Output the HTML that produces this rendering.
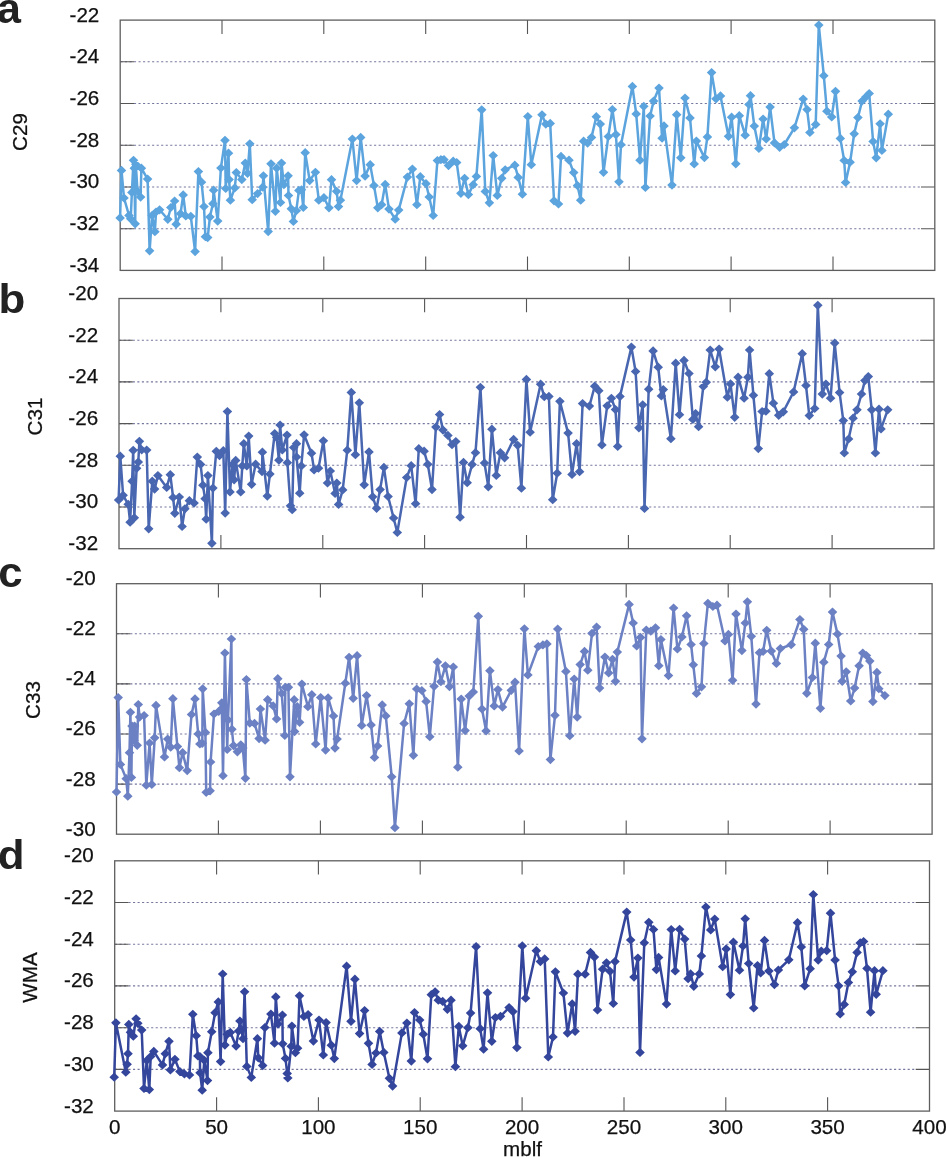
<!DOCTYPE html>
<html lang="en"><head><meta charset="utf-8"><title>Figure</title>
<style>
html,body{margin:0;padding:0;background:#fff;}
body{width:946px;height:1157px;overflow:hidden;font-family:"Liberation Sans",sans-serif;}
svg{display:block;}
svg text{font-family:"Liberation Sans",sans-serif;fill:#111;}
.t{font-size:20.6px;stroke:#111;stroke-width:0.25px;}
.L{font-size:41px;font-weight:bold;fill:#222;}
</style></head><body>
<svg width="946" height="1157" viewBox="0 0 946 1157">
<rect width="946" height="1157" fill="#fff"/>
<g id="panel-a">
<line x1="120.4" x2="921.0" y1="61.8" y2="61.8" stroke="#74779e" stroke-width="1.1" stroke-dasharray="2.1 2.43"/>
<path d="M120.2 61.8h13.8M934.8 61.8h-13.8" stroke="#555555" stroke-width="1.1" fill="none"/>
<line x1="120.4" x2="921.0" y1="103.5" y2="103.5" stroke="#74779e" stroke-width="1.1" stroke-dasharray="2.1 2.43"/>
<path d="M120.2 103.5h13.8M934.8 103.5h-13.8" stroke="#555555" stroke-width="1.1" fill="none"/>
<line x1="120.4" x2="921.0" y1="145.2" y2="145.2" stroke="#74779e" stroke-width="1.1" stroke-dasharray="2.1 2.43"/>
<path d="M120.2 145.2h13.8M934.8 145.2h-13.8" stroke="#555555" stroke-width="1.1" fill="none"/>
<line x1="120.4" x2="921.0" y1="187.0" y2="187.0" stroke="#74779e" stroke-width="1.1" stroke-dasharray="2.1 2.43"/>
<path d="M120.2 187.0h13.8M934.8 187.0h-13.8" stroke="#555555" stroke-width="1.1" fill="none"/>
<line x1="120.4" x2="921.0" y1="228.7" y2="228.7" stroke="#74779e" stroke-width="1.1" stroke-dasharray="2.1 2.43"/>
<path d="M120.2 228.7h13.8M934.8 228.7h-13.8" stroke="#555555" stroke-width="1.1" fill="none"/>
<path d="M222.0 20.1v13.8M222.0 270.4v-13.8M323.8 20.1v13.8M323.8 270.4v-13.8M425.7 20.1v13.8M425.7 270.4v-13.8M527.5 20.1v13.8M527.5 270.4v-13.8M629.3 20.1v13.8M629.3 270.4v-13.8M731.1 20.1v13.8M731.1 270.4v-13.8M833.0 20.1v13.8M833.0 270.4v-13.8" stroke="#555555" stroke-width="1.1" fill="none"/>
<rect x="120.2" y="20.1" width="814.6" height="250.3" fill="none" stroke="#5e5e5e" stroke-width="1.3"/>
<text class="t" x="99.3" y="21.5" text-anchor="end">-22</text>
<text class="t" x="99.3" y="63.2" text-anchor="end">-24</text>
<text class="t" x="99.3" y="104.9" text-anchor="end">-26</text>
<text class="t" x="99.3" y="146.7" text-anchor="end">-28</text>
<text class="t" x="99.3" y="188.4" text-anchor="end">-30</text>
<text class="t" x="99.3" y="230.1" text-anchor="end">-32</text>
<text class="t" x="99.3" y="271.8" text-anchor="end">-34</text>
<text class="t" transform="translate(27 132) rotate(-90)" text-anchor="middle">C29</text>
<text class="L" style="font-size:43px" transform="translate(-3.0 22.7) scale(1.0 1)">a</text>
<polyline fill="none" stroke="#5ca4de" stroke-width="2.5" stroke-linejoin="round" points="120.1,217.9 121.5,170.4 124.0,198.0 129.0,215.4 130.7,218.8 131.9,192.4 133.5,160.3 134.3,168.2 135.2,223.8 135.8,164.3 137.5,191.2 140.6,197.1 141.4,168.2 147.6,179.1 149.6,250.8 152.1,215.4 154.9,231.7 156.0,212.0 159.6,209.8 167.8,219.3 170.8,207.5 174.6,201.0 176.2,224.2 180.5,213.7 183.2,194.9 185.8,216.0 190.8,216.3 195.1,251.6 198.4,171.6 201.5,182.2 204.0,206.6 205.4,236.7 207.7,237.6 209.9,217.1 212.9,203.7 213.6,190.2 217.7,221.1 220.9,168.0 225.0,140.3 225.7,188.5 228.5,153.2 229.1,179.6 230.4,200.2 234.8,187.9 236.3,172.6 241.8,179.6 245.3,163.1 247.5,173.3 249.8,143.8 252.2,199.7 257.6,193.6 262.7,187.2 263.4,175.8 268.2,231.6 271.0,163.8 275.4,211.3 276.7,168.2 280.5,202.5 281.5,163.1 283.9,184.7 288.1,175.8 288.5,195.5 291.3,208.8 293.4,221.5 296.3,210.7 298.9,190.4 301.4,189.8 303.3,207.5 305.2,152.7 309.7,180.6 315.4,172.3 318.8,200.2 323.9,197.7 329.0,207.8 331.5,179.7 336.6,191.3 338.5,206.6 340.4,200.2 352.4,139.1 356.6,180.6 360.7,137.4 365.1,176.1 370.2,164.7 374.0,185.6 377.8,207.8 381.6,204.7 385.2,184.4 389.0,209.1 395.2,219.2 398.7,210.1 407.4,177.1 412.4,169.1 416.9,204.7 420.3,176.7 426.0,183.7 429.2,197.0 433.2,215.5 437.4,160.6 440.9,159.7 444.0,159.7 448.5,165.6 453.2,161.2 456.7,162.5 460.9,193.3 464.6,178.3 468.4,194.6 473.2,184.7 476.4,176.4 481.7,109.8 485.3,191.4 489.4,202.8 493.2,155.5 497.3,195.4 501.7,178.3 505.2,169.8 514.8,165.2 518.2,177.4 522.4,194.2 527.8,116.5 531.3,164.7 542.0,114.8 545.8,124.1 550.2,123.4 554.0,200.8 558.5,204.0 561.0,156.4 569.0,160.2 573.7,172.6 577.5,185.6 580.7,200.2 583.6,141.2 587.6,143.1 591.5,137.4 596.3,116.7 600.3,124.1 603.5,172.3 608.3,136.5 612.4,109.5 615.9,134.6 619.0,181.8 621.0,144.7 632.4,86.4 636.2,113.9 640.0,160.2 643.8,106.3 645.4,187.5 650.1,116.0 653.6,101.1 659.0,88.1 662.1,138.2 664.0,125.9 672.0,185.1 676.7,114.7 680.8,157.8 685.0,98.0 690.0,117.9 694.2,163.9 696.4,141.1 704.4,157.6 707.4,136.9 711.6,72.6 716.0,98.8 720.5,95.9 728.5,136.3 731.6,117.2 735.8,163.8 739.3,115.7 745.2,135.2 749.0,104.5 750.5,95.7 754.3,126.1 758.9,148.5 763.1,119.0 766.2,139.0 770.1,107.1 774.5,142.9 779.6,147.3 784.3,144.5 794.4,127.8 803.2,99.0 807.1,109.6 809.9,132.5 815.7,124.4 818.8,25.1 823.8,75.7 826.9,111.2 831.7,116.9 835.5,91.3 840.3,138.4 844.2,160.5 845.6,182.5 850.1,162.2 854.2,133.8 857.9,117.6 862.1,101.0 865.8,97.1 869.2,93.5 873.1,141.5 876.2,157.8 880.1,123.8 881.9,150.4 888.3,114.2"/>
<path fill="#5ca4de" d="M120.1 213.3l4.8 4.6l-4.8 4.6l-4.8-4.6zM121.5 165.8l4.8 4.6l-4.8 4.6l-4.8-4.6zM124.0 193.4l4.8 4.6l-4.8 4.6l-4.8-4.6zM129.0 210.8l4.8 4.6l-4.8 4.6l-4.8-4.6zM130.7 214.2l4.8 4.6l-4.8 4.6l-4.8-4.6zM131.9 187.8l4.8 4.6l-4.8 4.6l-4.8-4.6zM133.5 155.7l4.8 4.6l-4.8 4.6l-4.8-4.6zM134.3 163.6l4.8 4.6l-4.8 4.6l-4.8-4.6zM135.2 219.2l4.8 4.6l-4.8 4.6l-4.8-4.6zM135.8 159.7l4.8 4.6l-4.8 4.6l-4.8-4.6zM137.5 186.6l4.8 4.6l-4.8 4.6l-4.8-4.6zM140.6 192.5l4.8 4.6l-4.8 4.6l-4.8-4.6zM141.4 163.6l4.8 4.6l-4.8 4.6l-4.8-4.6zM147.6 174.5l4.8 4.6l-4.8 4.6l-4.8-4.6zM149.6 246.2l4.8 4.6l-4.8 4.6l-4.8-4.6zM152.1 210.8l4.8 4.6l-4.8 4.6l-4.8-4.6zM154.9 227.1l4.8 4.6l-4.8 4.6l-4.8-4.6zM156.0 207.4l4.8 4.6l-4.8 4.6l-4.8-4.6zM159.6 205.2l4.8 4.6l-4.8 4.6l-4.8-4.6zM167.8 214.7l4.8 4.6l-4.8 4.6l-4.8-4.6zM170.8 202.9l4.8 4.6l-4.8 4.6l-4.8-4.6zM174.6 196.4l4.8 4.6l-4.8 4.6l-4.8-4.6zM176.2 219.6l4.8 4.6l-4.8 4.6l-4.8-4.6zM180.5 209.1l4.8 4.6l-4.8 4.6l-4.8-4.6zM183.2 190.3l4.8 4.6l-4.8 4.6l-4.8-4.6zM185.8 211.4l4.8 4.6l-4.8 4.6l-4.8-4.6zM190.8 211.7l4.8 4.6l-4.8 4.6l-4.8-4.6zM195.1 247.0l4.8 4.6l-4.8 4.6l-4.8-4.6zM198.4 167.0l4.8 4.6l-4.8 4.6l-4.8-4.6zM201.5 177.6l4.8 4.6l-4.8 4.6l-4.8-4.6zM204.0 202.0l4.8 4.6l-4.8 4.6l-4.8-4.6zM205.4 232.1l4.8 4.6l-4.8 4.6l-4.8-4.6zM207.7 233.0l4.8 4.6l-4.8 4.6l-4.8-4.6zM209.9 212.5l4.8 4.6l-4.8 4.6l-4.8-4.6zM212.9 199.1l4.8 4.6l-4.8 4.6l-4.8-4.6zM213.6 185.6l4.8 4.6l-4.8 4.6l-4.8-4.6zM217.7 216.5l4.8 4.6l-4.8 4.6l-4.8-4.6zM220.9 163.4l4.8 4.6l-4.8 4.6l-4.8-4.6zM225.0 135.7l4.8 4.6l-4.8 4.6l-4.8-4.6zM225.7 183.9l4.8 4.6l-4.8 4.6l-4.8-4.6zM228.5 148.6l4.8 4.6l-4.8 4.6l-4.8-4.6zM229.1 175.0l4.8 4.6l-4.8 4.6l-4.8-4.6zM230.4 195.6l4.8 4.6l-4.8 4.6l-4.8-4.6zM234.8 183.3l4.8 4.6l-4.8 4.6l-4.8-4.6zM236.3 168.0l4.8 4.6l-4.8 4.6l-4.8-4.6zM241.8 175.0l4.8 4.6l-4.8 4.6l-4.8-4.6zM245.3 158.5l4.8 4.6l-4.8 4.6l-4.8-4.6zM247.5 168.7l4.8 4.6l-4.8 4.6l-4.8-4.6zM249.8 139.2l4.8 4.6l-4.8 4.6l-4.8-4.6zM252.2 195.1l4.8 4.6l-4.8 4.6l-4.8-4.6zM257.6 189.0l4.8 4.6l-4.8 4.6l-4.8-4.6zM262.7 182.6l4.8 4.6l-4.8 4.6l-4.8-4.6zM263.4 171.2l4.8 4.6l-4.8 4.6l-4.8-4.6zM268.2 227.0l4.8 4.6l-4.8 4.6l-4.8-4.6zM271.0 159.2l4.8 4.6l-4.8 4.6l-4.8-4.6zM275.4 206.7l4.8 4.6l-4.8 4.6l-4.8-4.6zM276.7 163.6l4.8 4.6l-4.8 4.6l-4.8-4.6zM280.5 197.9l4.8 4.6l-4.8 4.6l-4.8-4.6zM281.5 158.5l4.8 4.6l-4.8 4.6l-4.8-4.6zM283.9 180.1l4.8 4.6l-4.8 4.6l-4.8-4.6zM288.1 171.2l4.8 4.6l-4.8 4.6l-4.8-4.6zM288.5 190.9l4.8 4.6l-4.8 4.6l-4.8-4.6zM291.3 204.2l4.8 4.6l-4.8 4.6l-4.8-4.6zM293.4 216.9l4.8 4.6l-4.8 4.6l-4.8-4.6zM296.3 206.1l4.8 4.6l-4.8 4.6l-4.8-4.6zM298.9 185.8l4.8 4.6l-4.8 4.6l-4.8-4.6zM301.4 185.2l4.8 4.6l-4.8 4.6l-4.8-4.6zM303.3 202.9l4.8 4.6l-4.8 4.6l-4.8-4.6zM305.2 148.1l4.8 4.6l-4.8 4.6l-4.8-4.6zM309.7 176.0l4.8 4.6l-4.8 4.6l-4.8-4.6zM315.4 167.7l4.8 4.6l-4.8 4.6l-4.8-4.6zM318.8 195.6l4.8 4.6l-4.8 4.6l-4.8-4.6zM323.9 193.1l4.8 4.6l-4.8 4.6l-4.8-4.6zM329.0 203.2l4.8 4.6l-4.8 4.6l-4.8-4.6zM331.5 175.1l4.8 4.6l-4.8 4.6l-4.8-4.6zM336.6 186.7l4.8 4.6l-4.8 4.6l-4.8-4.6zM338.5 202.0l4.8 4.6l-4.8 4.6l-4.8-4.6zM340.4 195.6l4.8 4.6l-4.8 4.6l-4.8-4.6zM352.4 134.5l4.8 4.6l-4.8 4.6l-4.8-4.6zM356.6 176.0l4.8 4.6l-4.8 4.6l-4.8-4.6zM360.7 132.8l4.8 4.6l-4.8 4.6l-4.8-4.6zM365.1 171.5l4.8 4.6l-4.8 4.6l-4.8-4.6zM370.2 160.1l4.8 4.6l-4.8 4.6l-4.8-4.6zM374.0 181.0l4.8 4.6l-4.8 4.6l-4.8-4.6zM377.8 203.2l4.8 4.6l-4.8 4.6l-4.8-4.6zM381.6 200.1l4.8 4.6l-4.8 4.6l-4.8-4.6zM385.2 179.8l4.8 4.6l-4.8 4.6l-4.8-4.6zM389.0 204.5l4.8 4.6l-4.8 4.6l-4.8-4.6zM395.2 214.6l4.8 4.6l-4.8 4.6l-4.8-4.6zM398.7 205.5l4.8 4.6l-4.8 4.6l-4.8-4.6zM407.4 172.5l4.8 4.6l-4.8 4.6l-4.8-4.6zM412.4 164.5l4.8 4.6l-4.8 4.6l-4.8-4.6zM416.9 200.1l4.8 4.6l-4.8 4.6l-4.8-4.6zM420.3 172.1l4.8 4.6l-4.8 4.6l-4.8-4.6zM426.0 179.1l4.8 4.6l-4.8 4.6l-4.8-4.6zM429.2 192.4l4.8 4.6l-4.8 4.6l-4.8-4.6zM433.2 210.9l4.8 4.6l-4.8 4.6l-4.8-4.6zM437.4 156.0l4.8 4.6l-4.8 4.6l-4.8-4.6zM440.9 155.1l4.8 4.6l-4.8 4.6l-4.8-4.6zM444.0 155.1l4.8 4.6l-4.8 4.6l-4.8-4.6zM448.5 161.0l4.8 4.6l-4.8 4.6l-4.8-4.6zM453.2 156.6l4.8 4.6l-4.8 4.6l-4.8-4.6zM456.7 157.9l4.8 4.6l-4.8 4.6l-4.8-4.6zM460.9 188.7l4.8 4.6l-4.8 4.6l-4.8-4.6zM464.6 173.7l4.8 4.6l-4.8 4.6l-4.8-4.6zM468.4 190.0l4.8 4.6l-4.8 4.6l-4.8-4.6zM473.2 180.1l4.8 4.6l-4.8 4.6l-4.8-4.6zM476.4 171.8l4.8 4.6l-4.8 4.6l-4.8-4.6zM481.7 105.2l4.8 4.6l-4.8 4.6l-4.8-4.6zM485.3 186.8l4.8 4.6l-4.8 4.6l-4.8-4.6zM489.4 198.2l4.8 4.6l-4.8 4.6l-4.8-4.6zM493.2 150.9l4.8 4.6l-4.8 4.6l-4.8-4.6zM497.3 190.8l4.8 4.6l-4.8 4.6l-4.8-4.6zM501.7 173.7l4.8 4.6l-4.8 4.6l-4.8-4.6zM505.2 165.2l4.8 4.6l-4.8 4.6l-4.8-4.6zM514.8 160.6l4.8 4.6l-4.8 4.6l-4.8-4.6zM518.2 172.8l4.8 4.6l-4.8 4.6l-4.8-4.6zM522.4 189.6l4.8 4.6l-4.8 4.6l-4.8-4.6zM527.8 111.9l4.8 4.6l-4.8 4.6l-4.8-4.6zM531.3 160.1l4.8 4.6l-4.8 4.6l-4.8-4.6zM542.0 110.2l4.8 4.6l-4.8 4.6l-4.8-4.6zM545.8 119.5l4.8 4.6l-4.8 4.6l-4.8-4.6zM550.2 118.8l4.8 4.6l-4.8 4.6l-4.8-4.6zM554.0 196.2l4.8 4.6l-4.8 4.6l-4.8-4.6zM558.5 199.4l4.8 4.6l-4.8 4.6l-4.8-4.6zM561.0 151.8l4.8 4.6l-4.8 4.6l-4.8-4.6zM569.0 155.6l4.8 4.6l-4.8 4.6l-4.8-4.6zM573.7 168.0l4.8 4.6l-4.8 4.6l-4.8-4.6zM577.5 181.0l4.8 4.6l-4.8 4.6l-4.8-4.6zM580.7 195.6l4.8 4.6l-4.8 4.6l-4.8-4.6zM583.6 136.6l4.8 4.6l-4.8 4.6l-4.8-4.6zM587.6 138.5l4.8 4.6l-4.8 4.6l-4.8-4.6zM591.5 132.8l4.8 4.6l-4.8 4.6l-4.8-4.6zM596.3 112.1l4.8 4.6l-4.8 4.6l-4.8-4.6zM600.3 119.5l4.8 4.6l-4.8 4.6l-4.8-4.6zM603.5 167.7l4.8 4.6l-4.8 4.6l-4.8-4.6zM608.3 131.9l4.8 4.6l-4.8 4.6l-4.8-4.6zM612.4 104.9l4.8 4.6l-4.8 4.6l-4.8-4.6zM615.9 130.0l4.8 4.6l-4.8 4.6l-4.8-4.6zM619.0 177.2l4.8 4.6l-4.8 4.6l-4.8-4.6zM621.0 140.1l4.8 4.6l-4.8 4.6l-4.8-4.6zM632.4 81.8l4.8 4.6l-4.8 4.6l-4.8-4.6zM636.2 109.3l4.8 4.6l-4.8 4.6l-4.8-4.6zM640.0 155.6l4.8 4.6l-4.8 4.6l-4.8-4.6zM643.8 101.7l4.8 4.6l-4.8 4.6l-4.8-4.6zM645.4 182.9l4.8 4.6l-4.8 4.6l-4.8-4.6zM650.1 111.4l4.8 4.6l-4.8 4.6l-4.8-4.6zM653.6 96.5l4.8 4.6l-4.8 4.6l-4.8-4.6zM659.0 83.5l4.8 4.6l-4.8 4.6l-4.8-4.6zM662.1 133.6l4.8 4.6l-4.8 4.6l-4.8-4.6zM664.0 121.3l4.8 4.6l-4.8 4.6l-4.8-4.6zM672.0 180.5l4.8 4.6l-4.8 4.6l-4.8-4.6zM676.7 110.1l4.8 4.6l-4.8 4.6l-4.8-4.6zM680.8 153.2l4.8 4.6l-4.8 4.6l-4.8-4.6zM685.0 93.4l4.8 4.6l-4.8 4.6l-4.8-4.6zM690.0 113.3l4.8 4.6l-4.8 4.6l-4.8-4.6zM694.2 159.3l4.8 4.6l-4.8 4.6l-4.8-4.6zM696.4 136.5l4.8 4.6l-4.8 4.6l-4.8-4.6zM704.4 153.0l4.8 4.6l-4.8 4.6l-4.8-4.6zM707.4 132.3l4.8 4.6l-4.8 4.6l-4.8-4.6zM711.6 68.0l4.8 4.6l-4.8 4.6l-4.8-4.6zM716.0 94.2l4.8 4.6l-4.8 4.6l-4.8-4.6zM720.5 91.3l4.8 4.6l-4.8 4.6l-4.8-4.6zM728.5 131.7l4.8 4.6l-4.8 4.6l-4.8-4.6zM731.6 112.6l4.8 4.6l-4.8 4.6l-4.8-4.6zM735.8 159.2l4.8 4.6l-4.8 4.6l-4.8-4.6zM739.3 111.1l4.8 4.6l-4.8 4.6l-4.8-4.6zM745.2 130.6l4.8 4.6l-4.8 4.6l-4.8-4.6zM749.0 99.9l4.8 4.6l-4.8 4.6l-4.8-4.6zM750.5 91.1l4.8 4.6l-4.8 4.6l-4.8-4.6zM754.3 121.5l4.8 4.6l-4.8 4.6l-4.8-4.6zM758.9 143.9l4.8 4.6l-4.8 4.6l-4.8-4.6zM763.1 114.4l4.8 4.6l-4.8 4.6l-4.8-4.6zM766.2 134.4l4.8 4.6l-4.8 4.6l-4.8-4.6zM770.1 102.5l4.8 4.6l-4.8 4.6l-4.8-4.6zM774.5 138.3l4.8 4.6l-4.8 4.6l-4.8-4.6zM779.6 142.7l4.8 4.6l-4.8 4.6l-4.8-4.6zM784.3 139.9l4.8 4.6l-4.8 4.6l-4.8-4.6zM794.4 123.2l4.8 4.6l-4.8 4.6l-4.8-4.6zM803.2 94.4l4.8 4.6l-4.8 4.6l-4.8-4.6zM807.1 105.0l4.8 4.6l-4.8 4.6l-4.8-4.6zM809.9 127.9l4.8 4.6l-4.8 4.6l-4.8-4.6zM815.7 119.8l4.8 4.6l-4.8 4.6l-4.8-4.6zM818.8 20.5l4.8 4.6l-4.8 4.6l-4.8-4.6zM823.8 71.1l4.8 4.6l-4.8 4.6l-4.8-4.6zM826.9 106.6l4.8 4.6l-4.8 4.6l-4.8-4.6zM831.7 112.3l4.8 4.6l-4.8 4.6l-4.8-4.6zM835.5 86.7l4.8 4.6l-4.8 4.6l-4.8-4.6zM840.3 133.8l4.8 4.6l-4.8 4.6l-4.8-4.6zM844.2 155.9l4.8 4.6l-4.8 4.6l-4.8-4.6zM845.6 177.9l4.8 4.6l-4.8 4.6l-4.8-4.6zM850.1 157.6l4.8 4.6l-4.8 4.6l-4.8-4.6zM854.2 129.2l4.8 4.6l-4.8 4.6l-4.8-4.6zM857.9 113.0l4.8 4.6l-4.8 4.6l-4.8-4.6zM862.1 96.4l4.8 4.6l-4.8 4.6l-4.8-4.6zM865.8 92.5l4.8 4.6l-4.8 4.6l-4.8-4.6zM869.2 88.9l4.8 4.6l-4.8 4.6l-4.8-4.6zM873.1 136.9l4.8 4.6l-4.8 4.6l-4.8-4.6zM876.2 153.2l4.8 4.6l-4.8 4.6l-4.8-4.6zM880.1 119.2l4.8 4.6l-4.8 4.6l-4.8-4.6zM881.9 145.8l4.8 4.6l-4.8 4.6l-4.8-4.6zM888.3 109.6l4.8 4.6l-4.8 4.6l-4.8-4.6z"/>
</g>
<g id="panel-b">
<line x1="119.2" x2="920.2" y1="340.2" y2="340.2" stroke="#74779e" stroke-width="1.1" stroke-dasharray="2.1 2.43"/>
<path d="M119.0 340.2h13.8M934.0 340.2h-13.8" stroke="#555555" stroke-width="1.1" fill="none"/>
<line x1="119.2" x2="920.2" y1="381.9" y2="381.9" stroke="#74779e" stroke-width="1.1" stroke-dasharray="2.1 2.43"/>
<path d="M119.0 381.9h13.8M934.0 381.9h-13.8" stroke="#555555" stroke-width="1.1" fill="none"/>
<line x1="119.2" x2="920.2" y1="423.6" y2="423.6" stroke="#74779e" stroke-width="1.1" stroke-dasharray="2.1 2.43"/>
<path d="M119.0 423.6h13.8M934.0 423.6h-13.8" stroke="#555555" stroke-width="1.1" fill="none"/>
<line x1="119.2" x2="920.2" y1="465.3" y2="465.3" stroke="#74779e" stroke-width="1.1" stroke-dasharray="2.1 2.43"/>
<path d="M119.0 465.3h13.8M934.0 465.3h-13.8" stroke="#555555" stroke-width="1.1" fill="none"/>
<line x1="119.2" x2="920.2" y1="507.0" y2="507.0" stroke="#74779e" stroke-width="1.1" stroke-dasharray="2.1 2.43"/>
<path d="M119.0 507.0h13.8M934.0 507.0h-13.8" stroke="#555555" stroke-width="1.1" fill="none"/>
<path d="M220.9 298.5v13.8M220.9 548.7v-13.8M322.8 298.5v13.8M322.8 548.7v-13.8M424.6 298.5v13.8M424.6 548.7v-13.8M526.5 298.5v13.8M526.5 548.7v-13.8M628.4 298.5v13.8M628.4 548.7v-13.8M730.2 298.5v13.8M730.2 548.7v-13.8M832.1 298.5v13.8M832.1 548.7v-13.8" stroke="#555555" stroke-width="1.1" fill="none"/>
<rect x="119.0" y="298.5" width="815.0" height="250.2" fill="none" stroke="#5e5e5e" stroke-width="1.3"/>
<text class="t" x="98.1" y="299.9" text-anchor="end">-20</text>
<text class="t" x="98.1" y="341.6" text-anchor="end">-22</text>
<text class="t" x="98.1" y="383.3" text-anchor="end">-24</text>
<text class="t" x="98.1" y="425.0" text-anchor="end">-26</text>
<text class="t" x="98.1" y="466.7" text-anchor="end">-28</text>
<text class="t" x="98.1" y="508.4" text-anchor="end">-30</text>
<text class="t" x="98.1" y="550.1" text-anchor="end">-32</text>
<text class="t" transform="translate(42 416.5) rotate(-90)" text-anchor="middle">C31</text>
<text class="L" style="font-size:41px" transform="translate(-1.4 313) scale(1.07 1)">b</text>
<polyline fill="none" stroke="#4966b1" stroke-width="2.5" stroke-linejoin="round" points="118.6,500.0 120.3,456.2 123.1,495.3 128.2,504.3 130.1,522.2 132.1,481.2 133.2,450.3 134.3,517.8 136.6,468.3 138.3,462.1 139.4,441.3 141.7,449.8 146.7,450.1 148.7,528.8 152.3,481.2 154.6,489.1 157.9,475.6 166.7,487.4 170.3,474.7 173.1,497.5 174.8,513.3 179.3,497.0 182.1,526.5 184.9,508.8 189.4,500.7 194.1,503.1 197.3,457.1 200.6,464.4 202.9,485.2 205.1,498.7 206.2,519.2 207.9,475.6 211.9,543.3 212.9,488.1 216.3,451.3 219.5,455.7 223.3,450.7 225.2,513.1 227.4,411.6 230.0,491.9 232.4,464.6 234.1,479.8 235.7,460.4 240.7,491.9 242.3,465.9 243.8,443.7 246.8,465.9 248.7,436.1 251.6,484.3 255.6,464.2 262.0,471.6 262.4,452.2 267.3,496.1 269.9,474.1 274.7,433.5 276.6,437.3 278.9,460.2 280.1,425.0 282.3,450.0 287.0,435.1 287.4,462.7 290.5,505.8 292.2,509.7 293.7,447.5 296.5,443.7 296.6,457.0 299.7,493.2 301.3,465.9 304.1,434.8 311.5,453.2 314.1,469.9 318.5,468.2 323.4,440.8 327.5,483.0 330.3,471.0 335.1,493.4 336.8,483.0 338.6,504.4 342.7,489.9 347.3,450.2 351.3,392.4 355.4,454.7 359.3,402.8 364.2,484.8 369.0,451.9 372.7,496.8 376.6,508.3 380.1,489.6 383.9,467.4 388.1,496.5 393.6,518.0 397.3,532.5 406.7,477.5 411.2,465.7 415.6,503.7 418.8,448.7 424.1,451.2 427.8,464.3 432.0,489.6 435.9,427.1 439.6,414.5 443.0,430.1 447.9,435.4 452.0,444.7 455.8,441.5 460.1,517.2 463.5,462.4 467.2,482.7 472.1,464.4 475.5,452.7 480.4,387.3 484.5,463.0 488.3,486.8 491.9,429.2 496.3,475.4 500.4,452.7 504.6,457.8 513.6,439.4 517.7,445.3 521.4,488.2 526.4,379.4 530.1,432.2 540.6,384.2 544.3,396.7 548.9,396.4 552.7,499.7 557.2,473.2 559.9,401.3 568.1,433.1 572.0,474.4 576.6,443.7 579.6,471.7 582.6,403.6 589.4,406.1 594.7,386.2 598.8,390.7 601.9,444.9 607.2,405.8 611.4,398.3 615.5,409.6 617.7,446.4 620.0,396.4 631.4,347.1 635.6,371.5 638.9,427.8 642.7,404.8 644.5,508.4 648.7,389.2 653.1,350.9 658.2,367.2 661.4,396.0 663.3,389.6 670.9,438.7 675.7,363.2 679.5,414.7 684.0,360.4 689.0,373.5 692.9,419.4 695.6,413.5 698.6,426.7 703.3,386.5 706.2,382.3 710.2,350.0 715.3,366.8 719.1,349.0 727.4,397.2 730.5,383.9 734.7,417.3 738.1,377.2 744.1,398.2 747.9,377.2 749.6,350.0 753.4,395.3 758.3,448.6 762.1,411.5 765.9,411.2 769.3,373.7 773.4,403.2 778.7,415.3 783.3,411.8 793.6,391.9 802.2,353.7 806.0,385.5 809.3,415.6 814.7,408.5 817.8,305.3 822.3,394.1 825.9,384.0 830.6,398.2 834.7,343.1 839.6,392.6 843.3,420.6 844.3,453.0 848.6,439.0 853.1,418.2 857.0,409.8 861.5,394.0 864.9,380.6 868.3,376.6 871.7,409.8 875.4,453.0 879.0,409.2 881.0,428.9 887.7,409.8"/>
<path fill="#4966b1" d="M118.6 495.4l4.8 4.6l-4.8 4.6l-4.8-4.6zM120.3 451.6l4.8 4.6l-4.8 4.6l-4.8-4.6zM123.1 490.7l4.8 4.6l-4.8 4.6l-4.8-4.6zM128.2 499.7l4.8 4.6l-4.8 4.6l-4.8-4.6zM130.1 517.6l4.8 4.6l-4.8 4.6l-4.8-4.6zM132.1 476.6l4.8 4.6l-4.8 4.6l-4.8-4.6zM133.2 445.7l4.8 4.6l-4.8 4.6l-4.8-4.6zM134.3 513.2l4.8 4.6l-4.8 4.6l-4.8-4.6zM136.6 463.7l4.8 4.6l-4.8 4.6l-4.8-4.6zM138.3 457.5l4.8 4.6l-4.8 4.6l-4.8-4.6zM139.4 436.7l4.8 4.6l-4.8 4.6l-4.8-4.6zM141.7 445.2l4.8 4.6l-4.8 4.6l-4.8-4.6zM146.7 445.5l4.8 4.6l-4.8 4.6l-4.8-4.6zM148.7 524.2l4.8 4.6l-4.8 4.6l-4.8-4.6zM152.3 476.6l4.8 4.6l-4.8 4.6l-4.8-4.6zM154.6 484.5l4.8 4.6l-4.8 4.6l-4.8-4.6zM157.9 471.0l4.8 4.6l-4.8 4.6l-4.8-4.6zM166.7 482.8l4.8 4.6l-4.8 4.6l-4.8-4.6zM170.3 470.1l4.8 4.6l-4.8 4.6l-4.8-4.6zM173.1 492.9l4.8 4.6l-4.8 4.6l-4.8-4.6zM174.8 508.7l4.8 4.6l-4.8 4.6l-4.8-4.6zM179.3 492.4l4.8 4.6l-4.8 4.6l-4.8-4.6zM182.1 521.9l4.8 4.6l-4.8 4.6l-4.8-4.6zM184.9 504.2l4.8 4.6l-4.8 4.6l-4.8-4.6zM189.4 496.1l4.8 4.6l-4.8 4.6l-4.8-4.6zM194.1 498.5l4.8 4.6l-4.8 4.6l-4.8-4.6zM197.3 452.5l4.8 4.6l-4.8 4.6l-4.8-4.6zM200.6 459.8l4.8 4.6l-4.8 4.6l-4.8-4.6zM202.9 480.6l4.8 4.6l-4.8 4.6l-4.8-4.6zM205.1 494.1l4.8 4.6l-4.8 4.6l-4.8-4.6zM206.2 514.6l4.8 4.6l-4.8 4.6l-4.8-4.6zM207.9 471.0l4.8 4.6l-4.8 4.6l-4.8-4.6zM211.9 538.7l4.8 4.6l-4.8 4.6l-4.8-4.6zM212.9 483.5l4.8 4.6l-4.8 4.6l-4.8-4.6zM216.3 446.7l4.8 4.6l-4.8 4.6l-4.8-4.6zM219.5 451.1l4.8 4.6l-4.8 4.6l-4.8-4.6zM223.3 446.1l4.8 4.6l-4.8 4.6l-4.8-4.6zM225.2 508.5l4.8 4.6l-4.8 4.6l-4.8-4.6zM227.4 407.0l4.8 4.6l-4.8 4.6l-4.8-4.6zM230.0 487.3l4.8 4.6l-4.8 4.6l-4.8-4.6zM232.4 460.0l4.8 4.6l-4.8 4.6l-4.8-4.6zM234.1 475.2l4.8 4.6l-4.8 4.6l-4.8-4.6zM235.7 455.8l4.8 4.6l-4.8 4.6l-4.8-4.6zM240.7 487.3l4.8 4.6l-4.8 4.6l-4.8-4.6zM242.3 461.3l4.8 4.6l-4.8 4.6l-4.8-4.6zM243.8 439.1l4.8 4.6l-4.8 4.6l-4.8-4.6zM246.8 461.3l4.8 4.6l-4.8 4.6l-4.8-4.6zM248.7 431.5l4.8 4.6l-4.8 4.6l-4.8-4.6zM251.6 479.7l4.8 4.6l-4.8 4.6l-4.8-4.6zM255.6 459.6l4.8 4.6l-4.8 4.6l-4.8-4.6zM262.0 467.0l4.8 4.6l-4.8 4.6l-4.8-4.6zM262.4 447.6l4.8 4.6l-4.8 4.6l-4.8-4.6zM267.3 491.5l4.8 4.6l-4.8 4.6l-4.8-4.6zM269.9 469.5l4.8 4.6l-4.8 4.6l-4.8-4.6zM274.7 428.9l4.8 4.6l-4.8 4.6l-4.8-4.6zM276.6 432.7l4.8 4.6l-4.8 4.6l-4.8-4.6zM278.9 455.6l4.8 4.6l-4.8 4.6l-4.8-4.6zM280.1 420.4l4.8 4.6l-4.8 4.6l-4.8-4.6zM282.3 445.4l4.8 4.6l-4.8 4.6l-4.8-4.6zM287.0 430.5l4.8 4.6l-4.8 4.6l-4.8-4.6zM287.4 458.1l4.8 4.6l-4.8 4.6l-4.8-4.6zM290.5 501.2l4.8 4.6l-4.8 4.6l-4.8-4.6zM292.2 505.1l4.8 4.6l-4.8 4.6l-4.8-4.6zM293.7 442.9l4.8 4.6l-4.8 4.6l-4.8-4.6zM296.5 439.1l4.8 4.6l-4.8 4.6l-4.8-4.6zM296.6 452.4l4.8 4.6l-4.8 4.6l-4.8-4.6zM299.7 488.6l4.8 4.6l-4.8 4.6l-4.8-4.6zM301.3 461.3l4.8 4.6l-4.8 4.6l-4.8-4.6zM304.1 430.2l4.8 4.6l-4.8 4.6l-4.8-4.6zM311.5 448.6l4.8 4.6l-4.8 4.6l-4.8-4.6zM314.1 465.3l4.8 4.6l-4.8 4.6l-4.8-4.6zM318.5 463.6l4.8 4.6l-4.8 4.6l-4.8-4.6zM323.4 436.2l4.8 4.6l-4.8 4.6l-4.8-4.6zM327.5 478.4l4.8 4.6l-4.8 4.6l-4.8-4.6zM330.3 466.4l4.8 4.6l-4.8 4.6l-4.8-4.6zM335.1 488.8l4.8 4.6l-4.8 4.6l-4.8-4.6zM336.8 478.4l4.8 4.6l-4.8 4.6l-4.8-4.6zM338.6 499.8l4.8 4.6l-4.8 4.6l-4.8-4.6zM342.7 485.3l4.8 4.6l-4.8 4.6l-4.8-4.6zM347.3 445.6l4.8 4.6l-4.8 4.6l-4.8-4.6zM351.3 387.8l4.8 4.6l-4.8 4.6l-4.8-4.6zM355.4 450.1l4.8 4.6l-4.8 4.6l-4.8-4.6zM359.3 398.2l4.8 4.6l-4.8 4.6l-4.8-4.6zM364.2 480.2l4.8 4.6l-4.8 4.6l-4.8-4.6zM369.0 447.3l4.8 4.6l-4.8 4.6l-4.8-4.6zM372.7 492.2l4.8 4.6l-4.8 4.6l-4.8-4.6zM376.6 503.7l4.8 4.6l-4.8 4.6l-4.8-4.6zM380.1 485.0l4.8 4.6l-4.8 4.6l-4.8-4.6zM383.9 462.8l4.8 4.6l-4.8 4.6l-4.8-4.6zM388.1 491.9l4.8 4.6l-4.8 4.6l-4.8-4.6zM393.6 513.4l4.8 4.6l-4.8 4.6l-4.8-4.6zM397.3 527.9l4.8 4.6l-4.8 4.6l-4.8-4.6zM406.7 472.9l4.8 4.6l-4.8 4.6l-4.8-4.6zM411.2 461.1l4.8 4.6l-4.8 4.6l-4.8-4.6zM415.6 499.1l4.8 4.6l-4.8 4.6l-4.8-4.6zM418.8 444.1l4.8 4.6l-4.8 4.6l-4.8-4.6zM424.1 446.6l4.8 4.6l-4.8 4.6l-4.8-4.6zM427.8 459.7l4.8 4.6l-4.8 4.6l-4.8-4.6zM432.0 485.0l4.8 4.6l-4.8 4.6l-4.8-4.6zM435.9 422.5l4.8 4.6l-4.8 4.6l-4.8-4.6zM439.6 409.9l4.8 4.6l-4.8 4.6l-4.8-4.6zM443.0 425.5l4.8 4.6l-4.8 4.6l-4.8-4.6zM447.9 430.8l4.8 4.6l-4.8 4.6l-4.8-4.6zM452.0 440.1l4.8 4.6l-4.8 4.6l-4.8-4.6zM455.8 436.9l4.8 4.6l-4.8 4.6l-4.8-4.6zM460.1 512.6l4.8 4.6l-4.8 4.6l-4.8-4.6zM463.5 457.8l4.8 4.6l-4.8 4.6l-4.8-4.6zM467.2 478.1l4.8 4.6l-4.8 4.6l-4.8-4.6zM472.1 459.8l4.8 4.6l-4.8 4.6l-4.8-4.6zM475.5 448.1l4.8 4.6l-4.8 4.6l-4.8-4.6zM480.4 382.7l4.8 4.6l-4.8 4.6l-4.8-4.6zM484.5 458.4l4.8 4.6l-4.8 4.6l-4.8-4.6zM488.3 482.2l4.8 4.6l-4.8 4.6l-4.8-4.6zM491.9 424.6l4.8 4.6l-4.8 4.6l-4.8-4.6zM496.3 470.8l4.8 4.6l-4.8 4.6l-4.8-4.6zM500.4 448.1l4.8 4.6l-4.8 4.6l-4.8-4.6zM504.6 453.2l4.8 4.6l-4.8 4.6l-4.8-4.6zM513.6 434.8l4.8 4.6l-4.8 4.6l-4.8-4.6zM517.7 440.7l4.8 4.6l-4.8 4.6l-4.8-4.6zM521.4 483.6l4.8 4.6l-4.8 4.6l-4.8-4.6zM526.4 374.8l4.8 4.6l-4.8 4.6l-4.8-4.6zM530.1 427.6l4.8 4.6l-4.8 4.6l-4.8-4.6zM540.6 379.6l4.8 4.6l-4.8 4.6l-4.8-4.6zM544.3 392.1l4.8 4.6l-4.8 4.6l-4.8-4.6zM548.9 391.8l4.8 4.6l-4.8 4.6l-4.8-4.6zM552.7 495.1l4.8 4.6l-4.8 4.6l-4.8-4.6zM557.2 468.6l4.8 4.6l-4.8 4.6l-4.8-4.6zM559.9 396.7l4.8 4.6l-4.8 4.6l-4.8-4.6zM568.1 428.5l4.8 4.6l-4.8 4.6l-4.8-4.6zM572.0 469.8l4.8 4.6l-4.8 4.6l-4.8-4.6zM576.6 439.1l4.8 4.6l-4.8 4.6l-4.8-4.6zM579.6 467.1l4.8 4.6l-4.8 4.6l-4.8-4.6zM582.6 399.0l4.8 4.6l-4.8 4.6l-4.8-4.6zM589.4 401.5l4.8 4.6l-4.8 4.6l-4.8-4.6zM594.7 381.6l4.8 4.6l-4.8 4.6l-4.8-4.6zM598.8 386.1l4.8 4.6l-4.8 4.6l-4.8-4.6zM601.9 440.3l4.8 4.6l-4.8 4.6l-4.8-4.6zM607.2 401.2l4.8 4.6l-4.8 4.6l-4.8-4.6zM611.4 393.7l4.8 4.6l-4.8 4.6l-4.8-4.6zM615.5 405.0l4.8 4.6l-4.8 4.6l-4.8-4.6zM617.7 441.8l4.8 4.6l-4.8 4.6l-4.8-4.6zM620.0 391.8l4.8 4.6l-4.8 4.6l-4.8-4.6zM631.4 342.5l4.8 4.6l-4.8 4.6l-4.8-4.6zM635.6 366.9l4.8 4.6l-4.8 4.6l-4.8-4.6zM638.9 423.2l4.8 4.6l-4.8 4.6l-4.8-4.6zM642.7 400.2l4.8 4.6l-4.8 4.6l-4.8-4.6zM644.5 503.8l4.8 4.6l-4.8 4.6l-4.8-4.6zM648.7 384.6l4.8 4.6l-4.8 4.6l-4.8-4.6zM653.1 346.3l4.8 4.6l-4.8 4.6l-4.8-4.6zM658.2 362.6l4.8 4.6l-4.8 4.6l-4.8-4.6zM661.4 391.4l4.8 4.6l-4.8 4.6l-4.8-4.6zM663.3 385.0l4.8 4.6l-4.8 4.6l-4.8-4.6zM670.9 434.1l4.8 4.6l-4.8 4.6l-4.8-4.6zM675.7 358.6l4.8 4.6l-4.8 4.6l-4.8-4.6zM679.5 410.1l4.8 4.6l-4.8 4.6l-4.8-4.6zM684.0 355.8l4.8 4.6l-4.8 4.6l-4.8-4.6zM689.0 368.9l4.8 4.6l-4.8 4.6l-4.8-4.6zM692.9 414.8l4.8 4.6l-4.8 4.6l-4.8-4.6zM695.6 408.9l4.8 4.6l-4.8 4.6l-4.8-4.6zM698.6 422.1l4.8 4.6l-4.8 4.6l-4.8-4.6zM703.3 381.9l4.8 4.6l-4.8 4.6l-4.8-4.6zM706.2 377.7l4.8 4.6l-4.8 4.6l-4.8-4.6zM710.2 345.4l4.8 4.6l-4.8 4.6l-4.8-4.6zM715.3 362.2l4.8 4.6l-4.8 4.6l-4.8-4.6zM719.1 344.4l4.8 4.6l-4.8 4.6l-4.8-4.6zM727.4 392.6l4.8 4.6l-4.8 4.6l-4.8-4.6zM730.5 379.3l4.8 4.6l-4.8 4.6l-4.8-4.6zM734.7 412.7l4.8 4.6l-4.8 4.6l-4.8-4.6zM738.1 372.6l4.8 4.6l-4.8 4.6l-4.8-4.6zM744.1 393.6l4.8 4.6l-4.8 4.6l-4.8-4.6zM747.9 372.6l4.8 4.6l-4.8 4.6l-4.8-4.6zM749.6 345.4l4.8 4.6l-4.8 4.6l-4.8-4.6zM753.4 390.7l4.8 4.6l-4.8 4.6l-4.8-4.6zM758.3 444.0l4.8 4.6l-4.8 4.6l-4.8-4.6zM762.1 406.9l4.8 4.6l-4.8 4.6l-4.8-4.6zM765.9 406.6l4.8 4.6l-4.8 4.6l-4.8-4.6zM769.3 369.1l4.8 4.6l-4.8 4.6l-4.8-4.6zM773.4 398.6l4.8 4.6l-4.8 4.6l-4.8-4.6zM778.7 410.7l4.8 4.6l-4.8 4.6l-4.8-4.6zM783.3 407.2l4.8 4.6l-4.8 4.6l-4.8-4.6zM793.6 387.3l4.8 4.6l-4.8 4.6l-4.8-4.6zM802.2 349.1l4.8 4.6l-4.8 4.6l-4.8-4.6zM806.0 380.9l4.8 4.6l-4.8 4.6l-4.8-4.6zM809.3 411.0l4.8 4.6l-4.8 4.6l-4.8-4.6zM814.7 403.9l4.8 4.6l-4.8 4.6l-4.8-4.6zM817.8 300.7l4.8 4.6l-4.8 4.6l-4.8-4.6zM822.3 389.5l4.8 4.6l-4.8 4.6l-4.8-4.6zM825.9 379.4l4.8 4.6l-4.8 4.6l-4.8-4.6zM830.6 393.6l4.8 4.6l-4.8 4.6l-4.8-4.6zM834.7 338.5l4.8 4.6l-4.8 4.6l-4.8-4.6zM839.6 388.0l4.8 4.6l-4.8 4.6l-4.8-4.6zM843.3 416.0l4.8 4.6l-4.8 4.6l-4.8-4.6zM844.3 448.4l4.8 4.6l-4.8 4.6l-4.8-4.6zM848.6 434.4l4.8 4.6l-4.8 4.6l-4.8-4.6zM853.1 413.6l4.8 4.6l-4.8 4.6l-4.8-4.6zM857.0 405.2l4.8 4.6l-4.8 4.6l-4.8-4.6zM861.5 389.4l4.8 4.6l-4.8 4.6l-4.8-4.6zM864.9 376.0l4.8 4.6l-4.8 4.6l-4.8-4.6zM868.3 372.0l4.8 4.6l-4.8 4.6l-4.8-4.6zM871.7 405.2l4.8 4.6l-4.8 4.6l-4.8-4.6zM875.4 448.4l4.8 4.6l-4.8 4.6l-4.8-4.6zM879.0 404.6l4.8 4.6l-4.8 4.6l-4.8-4.6zM881.0 424.3l4.8 4.6l-4.8 4.6l-4.8-4.6zM887.7 405.2l4.8 4.6l-4.8 4.6l-4.8-4.6z"/>
</g>
<g id="panel-c">
<line x1="116.7" x2="918.3" y1="633.8" y2="633.8" stroke="#74779e" stroke-width="1.1" stroke-dasharray="2.1 2.43"/>
<path d="M116.5 633.8h13.8M932.1 633.8h-13.8" stroke="#555555" stroke-width="1.1" fill="none"/>
<line x1="116.7" x2="918.3" y1="683.9" y2="683.9" stroke="#74779e" stroke-width="1.1" stroke-dasharray="2.1 2.43"/>
<path d="M116.5 683.9h13.8M932.1 683.9h-13.8" stroke="#555555" stroke-width="1.1" fill="none"/>
<line x1="116.7" x2="918.3" y1="734.0" y2="734.0" stroke="#74779e" stroke-width="1.1" stroke-dasharray="2.1 2.43"/>
<path d="M116.5 734.0h13.8M932.1 734.0h-13.8" stroke="#555555" stroke-width="1.1" fill="none"/>
<line x1="116.7" x2="918.3" y1="784.1" y2="784.1" stroke="#74779e" stroke-width="1.1" stroke-dasharray="2.1 2.43"/>
<path d="M116.5 784.1h13.8M932.1 784.1h-13.8" stroke="#555555" stroke-width="1.1" fill="none"/>
<path d="M218.4 583.7v13.8M218.4 834.2v-13.8M320.4 583.7v13.8M320.4 834.2v-13.8M422.4 583.7v13.8M422.4 834.2v-13.8M524.3 583.7v13.8M524.3 834.2v-13.8M626.2 583.7v13.8M626.2 834.2v-13.8M728.2 583.7v13.8M728.2 834.2v-13.8M830.1 583.7v13.8M830.1 834.2v-13.8" stroke="#555555" stroke-width="1.1" fill="none"/>
<rect x="116.5" y="583.7" width="815.6" height="250.5" fill="none" stroke="#5e5e5e" stroke-width="1.3"/>
<text class="t" x="95.6" y="585.1" text-anchor="end">-20</text>
<text class="t" x="95.6" y="635.2" text-anchor="end">-22</text>
<text class="t" x="95.6" y="685.3" text-anchor="end">-24</text>
<text class="t" x="95.6" y="735.4" text-anchor="end">-26</text>
<text class="t" x="95.6" y="785.5" text-anchor="end">-28</text>
<text class="t" x="95.6" y="835.6" text-anchor="end">-30</text>
<text class="t" transform="translate(40 700) rotate(-90)" text-anchor="middle">C33</text>
<text class="L" style="font-size:43px" transform="translate(-1.8 586.6) scale(1.02 1)">c</text>
<polyline fill="none" stroke="#6c81c3" stroke-width="2.5" stroke-linejoin="round" points="116.5,792.0 118.2,697.6 120.4,764.4 126.2,778.7 127.8,796.2 129.5,752.7 130.4,712.3 131.4,777.4 132.0,726.1 134.0,740.4 134.6,726.1 137.2,745.3 138.3,704.5 139.6,717.1 144.1,715.5 146.3,785.2 149.6,743.0 151.8,784.5 154.7,737.8 156.0,705.4 164.5,757.0 167.7,739.1 170.7,747.2 172.9,698.7 177.4,746.6 179.4,767.7 182.6,752.7 187.2,770.6 191.5,714.5 195.0,698.9 198.2,733.9 199.9,744.0 202.3,743.3 202.7,688.8 205.4,732.4 206.2,792.3 210.1,790.8 210.6,762.0 214.0,714.0 218.7,711.4 221.8,702.8 223.0,775.7 224.9,653.0 227.2,749.5 228.0,719.9 231.4,639.0 231.9,729.3 233.5,745.6 237.4,751.8 240.8,744.8 242.8,748.0 245.4,778.3 246.4,679.5 249.8,723.1 254.5,723.4 259.1,738.6 260.4,709.0 265.1,740.2 267.7,699.7 273.2,705.9 276.6,718.9 277.8,678.7 281.7,693.5 284.8,735.5 285.3,687.3 288.4,687.3 290.0,776.8 294.2,699.7 294.6,731.6 297.3,706.7 299.6,722.3 301.9,684.1 307.9,706.7 311.8,694.7 315.7,744.0 320.7,697.5 325.6,750.1 328.1,697.9 333.5,715.9 335.0,748.1 337.1,739.1 345.3,683.2 349.1,657.3 353.2,698.3 357.1,655.7 361.7,725.4 366.6,695.6 371.1,724.9 374.5,757.4 377.6,746.0 382.2,704.9 385.8,715.9 391.7,776.8 394.9,827.7 404.1,723.5 409.3,703.8 413.4,755.3 416.7,689.0 421.8,690.5 426.1,701.4 429.8,736.7 434.1,686.3 437.4,662.0 440.9,681.7 445.4,665.8 449.5,686.6 453.3,667.0 457.8,767.2 461.2,699.1 465.1,730.6 469.2,696.1 473.3,692.0 478.3,616.3 482.0,709.0 486.1,730.9 489.9,670.7 494.2,705.9 497.9,689.6 502.5,707.1 511.3,690.3 515.0,682.2 519.1,750.9 524.4,628.8 527.9,674.9 538.3,646.5 542.9,644.9 546.9,643.9 550.4,759.6 555.0,715.3 557.7,629.0 565.9,671.4 569.8,735.7 574.2,679.0 577.2,717.1 580.2,664.6 584.5,651.4 587.8,670.2 592.0,633.3 596.6,627.1 599.6,688.1 604.9,657.0 608.7,672.9 612.5,659.3 615.5,681.3 617.3,652.1 629.1,604.4 633.2,623.0 636.7,646.0 640.5,637.4 642.0,738.8 646.3,630.0 650.8,631.2 655.5,627.8 658.8,665.7 660.9,639.5 668.5,675.6 673.6,608.0 677.4,649.0 681.9,636.9 686.6,615.8 691.1,644.5 693.3,664.8 696.5,693.4 701.5,686.8 703.8,643.5 707.9,603.3 712.9,606.5 717.0,605.2 725.0,641.0 728.4,634.4 732.6,680.3 736.0,614.1 741.9,650.6 745.3,623.0 747.4,601.8 751.3,636.3 756.0,704.1 759.5,652.7 763.1,651.5 766.7,630.3 771.3,651.1 776.4,663.5 780.4,648.5 791.2,644.7 799.9,619.5 803.7,629.3 806.8,693.3 812.4,677.5 815.3,643.2 820.4,708.3 823.8,662.2 828.7,644.5 832.5,612.1 837.5,634.1 841.1,656.1 842.2,681.3 846.2,671.8 850.7,701.0 854.6,688.1 859.1,665.8 862.8,653.0 866.4,655.5 869.8,661.1 872.9,701.6 876.9,672.4 878.8,688.7 884.9,695.6"/>
<path fill="#6c81c3" d="M116.5 787.4l4.8 4.6l-4.8 4.6l-4.8-4.6zM118.2 693.0l4.8 4.6l-4.8 4.6l-4.8-4.6zM120.4 759.8l4.8 4.6l-4.8 4.6l-4.8-4.6zM126.2 774.1l4.8 4.6l-4.8 4.6l-4.8-4.6zM127.8 791.6l4.8 4.6l-4.8 4.6l-4.8-4.6zM129.5 748.1l4.8 4.6l-4.8 4.6l-4.8-4.6zM130.4 707.7l4.8 4.6l-4.8 4.6l-4.8-4.6zM131.4 772.8l4.8 4.6l-4.8 4.6l-4.8-4.6zM132.0 721.5l4.8 4.6l-4.8 4.6l-4.8-4.6zM134.0 735.8l4.8 4.6l-4.8 4.6l-4.8-4.6zM134.6 721.5l4.8 4.6l-4.8 4.6l-4.8-4.6zM137.2 740.7l4.8 4.6l-4.8 4.6l-4.8-4.6zM138.3 699.9l4.8 4.6l-4.8 4.6l-4.8-4.6zM139.6 712.5l4.8 4.6l-4.8 4.6l-4.8-4.6zM144.1 710.9l4.8 4.6l-4.8 4.6l-4.8-4.6zM146.3 780.6l4.8 4.6l-4.8 4.6l-4.8-4.6zM149.6 738.4l4.8 4.6l-4.8 4.6l-4.8-4.6zM151.8 779.9l4.8 4.6l-4.8 4.6l-4.8-4.6zM154.7 733.2l4.8 4.6l-4.8 4.6l-4.8-4.6zM156.0 700.8l4.8 4.6l-4.8 4.6l-4.8-4.6zM164.5 752.4l4.8 4.6l-4.8 4.6l-4.8-4.6zM167.7 734.5l4.8 4.6l-4.8 4.6l-4.8-4.6zM170.7 742.6l4.8 4.6l-4.8 4.6l-4.8-4.6zM172.9 694.1l4.8 4.6l-4.8 4.6l-4.8-4.6zM177.4 742.0l4.8 4.6l-4.8 4.6l-4.8-4.6zM179.4 763.1l4.8 4.6l-4.8 4.6l-4.8-4.6zM182.6 748.1l4.8 4.6l-4.8 4.6l-4.8-4.6zM187.2 766.0l4.8 4.6l-4.8 4.6l-4.8-4.6zM191.5 709.9l4.8 4.6l-4.8 4.6l-4.8-4.6zM195.0 694.3l4.8 4.6l-4.8 4.6l-4.8-4.6zM198.2 729.3l4.8 4.6l-4.8 4.6l-4.8-4.6zM199.9 739.4l4.8 4.6l-4.8 4.6l-4.8-4.6zM202.3 738.7l4.8 4.6l-4.8 4.6l-4.8-4.6zM202.7 684.2l4.8 4.6l-4.8 4.6l-4.8-4.6zM205.4 727.8l4.8 4.6l-4.8 4.6l-4.8-4.6zM206.2 787.7l4.8 4.6l-4.8 4.6l-4.8-4.6zM210.1 786.2l4.8 4.6l-4.8 4.6l-4.8-4.6zM210.6 757.4l4.8 4.6l-4.8 4.6l-4.8-4.6zM214.0 709.4l4.8 4.6l-4.8 4.6l-4.8-4.6zM218.7 706.8l4.8 4.6l-4.8 4.6l-4.8-4.6zM221.8 698.2l4.8 4.6l-4.8 4.6l-4.8-4.6zM223.0 771.1l4.8 4.6l-4.8 4.6l-4.8-4.6zM224.9 648.4l4.8 4.6l-4.8 4.6l-4.8-4.6zM227.2 744.9l4.8 4.6l-4.8 4.6l-4.8-4.6zM228.0 715.3l4.8 4.6l-4.8 4.6l-4.8-4.6zM231.4 634.4l4.8 4.6l-4.8 4.6l-4.8-4.6zM231.9 724.7l4.8 4.6l-4.8 4.6l-4.8-4.6zM233.5 741.0l4.8 4.6l-4.8 4.6l-4.8-4.6zM237.4 747.2l4.8 4.6l-4.8 4.6l-4.8-4.6zM240.8 740.2l4.8 4.6l-4.8 4.6l-4.8-4.6zM242.8 743.4l4.8 4.6l-4.8 4.6l-4.8-4.6zM245.4 773.7l4.8 4.6l-4.8 4.6l-4.8-4.6zM246.4 674.9l4.8 4.6l-4.8 4.6l-4.8-4.6zM249.8 718.5l4.8 4.6l-4.8 4.6l-4.8-4.6zM254.5 718.8l4.8 4.6l-4.8 4.6l-4.8-4.6zM259.1 734.0l4.8 4.6l-4.8 4.6l-4.8-4.6zM260.4 704.4l4.8 4.6l-4.8 4.6l-4.8-4.6zM265.1 735.6l4.8 4.6l-4.8 4.6l-4.8-4.6zM267.7 695.1l4.8 4.6l-4.8 4.6l-4.8-4.6zM273.2 701.3l4.8 4.6l-4.8 4.6l-4.8-4.6zM276.6 714.3l4.8 4.6l-4.8 4.6l-4.8-4.6zM277.8 674.1l4.8 4.6l-4.8 4.6l-4.8-4.6zM281.7 688.9l4.8 4.6l-4.8 4.6l-4.8-4.6zM284.8 730.9l4.8 4.6l-4.8 4.6l-4.8-4.6zM285.3 682.7l4.8 4.6l-4.8 4.6l-4.8-4.6zM288.4 682.7l4.8 4.6l-4.8 4.6l-4.8-4.6zM290.0 772.2l4.8 4.6l-4.8 4.6l-4.8-4.6zM294.2 695.1l4.8 4.6l-4.8 4.6l-4.8-4.6zM294.6 727.0l4.8 4.6l-4.8 4.6l-4.8-4.6zM297.3 702.1l4.8 4.6l-4.8 4.6l-4.8-4.6zM299.6 717.7l4.8 4.6l-4.8 4.6l-4.8-4.6zM301.9 679.5l4.8 4.6l-4.8 4.6l-4.8-4.6zM307.9 702.1l4.8 4.6l-4.8 4.6l-4.8-4.6zM311.8 690.1l4.8 4.6l-4.8 4.6l-4.8-4.6zM315.7 739.4l4.8 4.6l-4.8 4.6l-4.8-4.6zM320.7 692.9l4.8 4.6l-4.8 4.6l-4.8-4.6zM325.6 745.5l4.8 4.6l-4.8 4.6l-4.8-4.6zM328.1 693.3l4.8 4.6l-4.8 4.6l-4.8-4.6zM333.5 711.3l4.8 4.6l-4.8 4.6l-4.8-4.6zM335.0 743.5l4.8 4.6l-4.8 4.6l-4.8-4.6zM337.1 734.5l4.8 4.6l-4.8 4.6l-4.8-4.6zM345.3 678.6l4.8 4.6l-4.8 4.6l-4.8-4.6zM349.1 652.7l4.8 4.6l-4.8 4.6l-4.8-4.6zM353.2 693.7l4.8 4.6l-4.8 4.6l-4.8-4.6zM357.1 651.1l4.8 4.6l-4.8 4.6l-4.8-4.6zM361.7 720.8l4.8 4.6l-4.8 4.6l-4.8-4.6zM366.6 691.0l4.8 4.6l-4.8 4.6l-4.8-4.6zM371.1 720.3l4.8 4.6l-4.8 4.6l-4.8-4.6zM374.5 752.8l4.8 4.6l-4.8 4.6l-4.8-4.6zM377.6 741.4l4.8 4.6l-4.8 4.6l-4.8-4.6zM382.2 700.3l4.8 4.6l-4.8 4.6l-4.8-4.6zM385.8 711.3l4.8 4.6l-4.8 4.6l-4.8-4.6zM391.7 772.2l4.8 4.6l-4.8 4.6l-4.8-4.6zM394.9 823.1l4.8 4.6l-4.8 4.6l-4.8-4.6zM404.1 718.9l4.8 4.6l-4.8 4.6l-4.8-4.6zM409.3 699.2l4.8 4.6l-4.8 4.6l-4.8-4.6zM413.4 750.7l4.8 4.6l-4.8 4.6l-4.8-4.6zM416.7 684.4l4.8 4.6l-4.8 4.6l-4.8-4.6zM421.8 685.9l4.8 4.6l-4.8 4.6l-4.8-4.6zM426.1 696.8l4.8 4.6l-4.8 4.6l-4.8-4.6zM429.8 732.1l4.8 4.6l-4.8 4.6l-4.8-4.6zM434.1 681.7l4.8 4.6l-4.8 4.6l-4.8-4.6zM437.4 657.4l4.8 4.6l-4.8 4.6l-4.8-4.6zM440.9 677.1l4.8 4.6l-4.8 4.6l-4.8-4.6zM445.4 661.2l4.8 4.6l-4.8 4.6l-4.8-4.6zM449.5 682.0l4.8 4.6l-4.8 4.6l-4.8-4.6zM453.3 662.4l4.8 4.6l-4.8 4.6l-4.8-4.6zM457.8 762.6l4.8 4.6l-4.8 4.6l-4.8-4.6zM461.2 694.5l4.8 4.6l-4.8 4.6l-4.8-4.6zM465.1 726.0l4.8 4.6l-4.8 4.6l-4.8-4.6zM469.2 691.5l4.8 4.6l-4.8 4.6l-4.8-4.6zM473.3 687.4l4.8 4.6l-4.8 4.6l-4.8-4.6zM478.3 611.7l4.8 4.6l-4.8 4.6l-4.8-4.6zM482.0 704.4l4.8 4.6l-4.8 4.6l-4.8-4.6zM486.1 726.3l4.8 4.6l-4.8 4.6l-4.8-4.6zM489.9 666.1l4.8 4.6l-4.8 4.6l-4.8-4.6zM494.2 701.3l4.8 4.6l-4.8 4.6l-4.8-4.6zM497.9 685.0l4.8 4.6l-4.8 4.6l-4.8-4.6zM502.5 702.5l4.8 4.6l-4.8 4.6l-4.8-4.6zM511.3 685.7l4.8 4.6l-4.8 4.6l-4.8-4.6zM515.0 677.6l4.8 4.6l-4.8 4.6l-4.8-4.6zM519.1 746.3l4.8 4.6l-4.8 4.6l-4.8-4.6zM524.4 624.2l4.8 4.6l-4.8 4.6l-4.8-4.6zM527.9 670.3l4.8 4.6l-4.8 4.6l-4.8-4.6zM538.3 641.9l4.8 4.6l-4.8 4.6l-4.8-4.6zM542.9 640.3l4.8 4.6l-4.8 4.6l-4.8-4.6zM546.9 639.3l4.8 4.6l-4.8 4.6l-4.8-4.6zM550.4 755.0l4.8 4.6l-4.8 4.6l-4.8-4.6zM555.0 710.7l4.8 4.6l-4.8 4.6l-4.8-4.6zM557.7 624.4l4.8 4.6l-4.8 4.6l-4.8-4.6zM565.9 666.8l4.8 4.6l-4.8 4.6l-4.8-4.6zM569.8 731.1l4.8 4.6l-4.8 4.6l-4.8-4.6zM574.2 674.4l4.8 4.6l-4.8 4.6l-4.8-4.6zM577.2 712.5l4.8 4.6l-4.8 4.6l-4.8-4.6zM580.2 660.0l4.8 4.6l-4.8 4.6l-4.8-4.6zM584.5 646.8l4.8 4.6l-4.8 4.6l-4.8-4.6zM587.8 665.6l4.8 4.6l-4.8 4.6l-4.8-4.6zM592.0 628.7l4.8 4.6l-4.8 4.6l-4.8-4.6zM596.6 622.5l4.8 4.6l-4.8 4.6l-4.8-4.6zM599.6 683.5l4.8 4.6l-4.8 4.6l-4.8-4.6zM604.9 652.4l4.8 4.6l-4.8 4.6l-4.8-4.6zM608.7 668.3l4.8 4.6l-4.8 4.6l-4.8-4.6zM612.5 654.7l4.8 4.6l-4.8 4.6l-4.8-4.6zM615.5 676.7l4.8 4.6l-4.8 4.6l-4.8-4.6zM617.3 647.5l4.8 4.6l-4.8 4.6l-4.8-4.6zM629.1 599.8l4.8 4.6l-4.8 4.6l-4.8-4.6zM633.2 618.4l4.8 4.6l-4.8 4.6l-4.8-4.6zM636.7 641.4l4.8 4.6l-4.8 4.6l-4.8-4.6zM640.5 632.8l4.8 4.6l-4.8 4.6l-4.8-4.6zM642.0 734.2l4.8 4.6l-4.8 4.6l-4.8-4.6zM646.3 625.4l4.8 4.6l-4.8 4.6l-4.8-4.6zM650.8 626.6l4.8 4.6l-4.8 4.6l-4.8-4.6zM655.5 623.2l4.8 4.6l-4.8 4.6l-4.8-4.6zM658.8 661.1l4.8 4.6l-4.8 4.6l-4.8-4.6zM660.9 634.9l4.8 4.6l-4.8 4.6l-4.8-4.6zM668.5 671.0l4.8 4.6l-4.8 4.6l-4.8-4.6zM673.6 603.4l4.8 4.6l-4.8 4.6l-4.8-4.6zM677.4 644.4l4.8 4.6l-4.8 4.6l-4.8-4.6zM681.9 632.3l4.8 4.6l-4.8 4.6l-4.8-4.6zM686.6 611.2l4.8 4.6l-4.8 4.6l-4.8-4.6zM691.1 639.9l4.8 4.6l-4.8 4.6l-4.8-4.6zM693.3 660.2l4.8 4.6l-4.8 4.6l-4.8-4.6zM696.5 688.8l4.8 4.6l-4.8 4.6l-4.8-4.6zM701.5 682.2l4.8 4.6l-4.8 4.6l-4.8-4.6zM703.8 638.9l4.8 4.6l-4.8 4.6l-4.8-4.6zM707.9 598.7l4.8 4.6l-4.8 4.6l-4.8-4.6zM712.9 601.9l4.8 4.6l-4.8 4.6l-4.8-4.6zM717.0 600.6l4.8 4.6l-4.8 4.6l-4.8-4.6zM725.0 636.4l4.8 4.6l-4.8 4.6l-4.8-4.6zM728.4 629.8l4.8 4.6l-4.8 4.6l-4.8-4.6zM732.6 675.7l4.8 4.6l-4.8 4.6l-4.8-4.6zM736.0 609.5l4.8 4.6l-4.8 4.6l-4.8-4.6zM741.9 646.0l4.8 4.6l-4.8 4.6l-4.8-4.6zM745.3 618.4l4.8 4.6l-4.8 4.6l-4.8-4.6zM747.4 597.2l4.8 4.6l-4.8 4.6l-4.8-4.6zM751.3 631.7l4.8 4.6l-4.8 4.6l-4.8-4.6zM756.0 699.5l4.8 4.6l-4.8 4.6l-4.8-4.6zM759.5 648.1l4.8 4.6l-4.8 4.6l-4.8-4.6zM763.1 646.9l4.8 4.6l-4.8 4.6l-4.8-4.6zM766.7 625.7l4.8 4.6l-4.8 4.6l-4.8-4.6zM771.3 646.5l4.8 4.6l-4.8 4.6l-4.8-4.6zM776.4 658.9l4.8 4.6l-4.8 4.6l-4.8-4.6zM780.4 643.9l4.8 4.6l-4.8 4.6l-4.8-4.6zM791.2 640.1l4.8 4.6l-4.8 4.6l-4.8-4.6zM799.9 614.9l4.8 4.6l-4.8 4.6l-4.8-4.6zM803.7 624.7l4.8 4.6l-4.8 4.6l-4.8-4.6zM806.8 688.7l4.8 4.6l-4.8 4.6l-4.8-4.6zM812.4 672.9l4.8 4.6l-4.8 4.6l-4.8-4.6zM815.3 638.6l4.8 4.6l-4.8 4.6l-4.8-4.6zM820.4 703.7l4.8 4.6l-4.8 4.6l-4.8-4.6zM823.8 657.6l4.8 4.6l-4.8 4.6l-4.8-4.6zM828.7 639.9l4.8 4.6l-4.8 4.6l-4.8-4.6zM832.5 607.5l4.8 4.6l-4.8 4.6l-4.8-4.6zM837.5 629.5l4.8 4.6l-4.8 4.6l-4.8-4.6zM841.1 651.5l4.8 4.6l-4.8 4.6l-4.8-4.6zM842.2 676.7l4.8 4.6l-4.8 4.6l-4.8-4.6zM846.2 667.2l4.8 4.6l-4.8 4.6l-4.8-4.6zM850.7 696.4l4.8 4.6l-4.8 4.6l-4.8-4.6zM854.6 683.5l4.8 4.6l-4.8 4.6l-4.8-4.6zM859.1 661.2l4.8 4.6l-4.8 4.6l-4.8-4.6zM862.8 648.4l4.8 4.6l-4.8 4.6l-4.8-4.6zM866.4 650.9l4.8 4.6l-4.8 4.6l-4.8-4.6zM869.8 656.5l4.8 4.6l-4.8 4.6l-4.8-4.6zM872.9 697.0l4.8 4.6l-4.8 4.6l-4.8-4.6zM876.9 667.8l4.8 4.6l-4.8 4.6l-4.8-4.6zM878.8 684.1l4.8 4.6l-4.8 4.6l-4.8-4.6zM884.9 691.0l4.8 4.6l-4.8 4.6l-4.8-4.6z"/>
</g>
<g id="panel-d">
<line x1="114.9" x2="915.7" y1="902.5" y2="902.5" stroke="#74779e" stroke-width="1.1" stroke-dasharray="2.1 2.43"/>
<path d="M114.7 902.5h13.8M929.5 902.5h-13.8" stroke="#555555" stroke-width="1.1" fill="none"/>
<line x1="114.9" x2="915.7" y1="944.2" y2="944.2" stroke="#74779e" stroke-width="1.1" stroke-dasharray="2.1 2.43"/>
<path d="M114.7 944.2h13.8M929.5 944.2h-13.8" stroke="#555555" stroke-width="1.1" fill="none"/>
<line x1="114.9" x2="915.7" y1="985.9" y2="985.9" stroke="#74779e" stroke-width="1.1" stroke-dasharray="2.1 2.43"/>
<path d="M114.7 985.9h13.8M929.5 985.9h-13.8" stroke="#555555" stroke-width="1.1" fill="none"/>
<line x1="114.9" x2="915.7" y1="1027.7" y2="1027.7" stroke="#74779e" stroke-width="1.1" stroke-dasharray="2.1 2.43"/>
<path d="M114.7 1027.7h13.8M929.5 1027.7h-13.8" stroke="#555555" stroke-width="1.1" fill="none"/>
<line x1="114.9" x2="915.7" y1="1069.4" y2="1069.4" stroke="#74779e" stroke-width="1.1" stroke-dasharray="2.1 2.43"/>
<path d="M114.7 1069.4h13.8M929.5 1069.4h-13.8" stroke="#555555" stroke-width="1.1" fill="none"/>
<path d="M216.6 860.8v13.8M216.6 1111.1v-13.8M318.4 860.8v13.8M318.4 1111.1v-13.8M420.2 860.8v13.8M420.2 1111.1v-13.8M522.1 860.8v13.8M522.1 1111.1v-13.8M624.0 860.8v13.8M624.0 1111.1v-13.8M725.8 860.8v13.8M725.8 1111.1v-13.8M827.6 860.8v13.8M827.6 1111.1v-13.8" stroke="#555555" stroke-width="1.1" fill="none"/>
<rect x="114.7" y="860.8" width="814.8" height="250.3" fill="none" stroke="#5e5e5e" stroke-width="1.3"/>
<text class="t" x="93.8" y="862.2" text-anchor="end">-20</text>
<text class="t" x="93.8" y="903.9" text-anchor="end">-22</text>
<text class="t" x="93.8" y="945.6" text-anchor="end">-24</text>
<text class="t" x="93.8" y="987.3" text-anchor="end">-26</text>
<text class="t" x="93.8" y="1029.1" text-anchor="end">-28</text>
<text class="t" x="93.8" y="1070.8" text-anchor="end">-30</text>
<text class="t" x="93.8" y="1112.5" text-anchor="end">-32</text>
<text class="t" transform="translate(37.2 977.5) rotate(-90)" text-anchor="middle">WMA</text>
<text class="L" style="font-size:41px" transform="translate(-2.2 868.6) scale(1.07 1)">d</text>
<polyline fill="none" stroke="#34459c" stroke-width="2.5" stroke-linejoin="round" points="114.2,1077.2 115.9,1022.8 125.8,1072.2 127.1,1064.3 128.0,1053.7 128.8,1024.4 130.5,1032.3 133.3,1036.2 136.1,1018.8 137.8,1023.3 141.7,1030.1 144.0,1088.5 146.8,1060.4 149.3,1089.6 150.7,1056.5 153.8,1051.4 162.5,1064.9 165.3,1053.7 169.0,1041.3 170.4,1069.9 174.9,1059.3 179.9,1071.6 184.4,1073.9 189.5,1075.0 192.8,1014.3 196.2,1035.7 197.9,1055.9 199.9,1056.5 200.1,1072.8 202.2,1090.2 204.3,1060.3 207.5,1080.6 207.9,1052.7 211.7,1031.7 215.1,1012.7 218.3,1001.9 220.6,1061.6 222.7,974.0 224.9,1045.1 227.2,1034.3 230.3,1032.4 236.1,1046.1 238.6,1031.1 239.9,1021.0 243.0,1038.7 244.6,991.8 246.8,1066.4 251.3,1077.4 257.4,1038.7 258.3,1057.8 262.7,1065.6 264.9,1027.6 270.9,1014.0 274.5,1043.2 275.8,996.9 277.9,1024.1 282.4,1015.0 282.7,1043.8 285.5,1058.4 287.2,1073.6 287.8,1078.0 291.2,1046.3 291.9,1026.0 295.4,1052.7 297.6,1048.2 299.5,995.8 303.9,1016.5 308.1,1014.6 313.4,1041.1 319.0,1020.0 323.3,1055.0 326.1,1022.6 331.3,1045.2 334.3,1058.6 346.6,966.2 351.0,1021.3 354.9,979.2 359.6,1033.6 364.6,1010.5 368.5,1043.3 372.1,1064.4 376.0,1053.0 379.7,1031.4 383.8,1052.4 389.4,1078.3 392.6,1086.1 401.9,1032.9 406.9,1023.0 411.3,1061.1 414.5,1012.5 419.7,1020.0 423.3,1034.2 427.5,1058.8 431.3,994.7 435.1,991.8 438.3,1000.2 442.7,1001.4 447.4,1009.3 451.0,1000.2 455.4,1066.7 458.8,1026.4 462.7,1045.8 467.9,1027.7 470.6,1013.1 476.1,946.7 480.2,1028.7 483.6,1049.2 487.5,992.8 491.8,1041.3 495.4,1017.5 500.5,1016.3 509.1,1007.6 512.9,1011.6 516.9,1047.6 522.3,945.9 525.6,998.2 536.3,950.7 540.4,961.6 544.7,958.9 548.3,1057.0 553.0,1037.0 555.4,971.8 563.4,993.0 567.5,1033.1 572.2,1003.9 575.1,1031.3 577.9,974.2 585.1,974.2 590.5,952.4 594.4,957.1 597.5,1009.9 602.6,969.2 606.5,962.8 610.0,971.3 613.3,1003.5 615.0,961.6 626.7,912.1 630.7,940.0 634.0,977.1 637.9,958.1 640.0,1052.4 644.3,942.8 648.8,922.3 653.5,929.5 656.4,969.6 658.6,957.4 666.5,1004.1 671.2,929.5 675.2,970.9 679.6,929.3 684.7,939.1 688.1,978.7 690.6,973.9 693.8,986.3 699.3,973.9 701.4,955.9 705.9,907.1 710.7,929.9 714.7,919.1 722.7,966.7 726.2,948.9 730.4,994.6 733.4,942.2 739.5,970.2 743.0,946.0 745.2,918.8 748.7,963.5 753.7,1008.0 757.5,965.6 760.7,972.9 764.5,940.4 768.9,971.0 774.4,984.6 778.4,970.0 788.8,959.8 797.5,922.7 801.3,946.9 804.7,985.8 810.2,968.7 813.3,894.5 818.2,960.1 821.3,951.0 826.7,950.7 830.5,913.2 835.1,960.1 838.6,985.8 840.2,1013.9 844.2,1004.4 848.4,982.5 852.3,971.8 857.1,952.4 860.2,942.9 863.6,941.5 867.0,968.4 870.6,1012.2 874.5,970.7 876.2,994.3 882.9,970.7"/>
<path fill="#34459c" d="M114.2 1072.6l4.8 4.6l-4.8 4.6l-4.8-4.6zM115.9 1018.2l4.8 4.6l-4.8 4.6l-4.8-4.6zM125.8 1067.6l4.8 4.6l-4.8 4.6l-4.8-4.6zM127.1 1059.7l4.8 4.6l-4.8 4.6l-4.8-4.6zM128.0 1049.1l4.8 4.6l-4.8 4.6l-4.8-4.6zM128.8 1019.8l4.8 4.6l-4.8 4.6l-4.8-4.6zM130.5 1027.7l4.8 4.6l-4.8 4.6l-4.8-4.6zM133.3 1031.6l4.8 4.6l-4.8 4.6l-4.8-4.6zM136.1 1014.2l4.8 4.6l-4.8 4.6l-4.8-4.6zM137.8 1018.7l4.8 4.6l-4.8 4.6l-4.8-4.6zM141.7 1025.5l4.8 4.6l-4.8 4.6l-4.8-4.6zM144.0 1083.9l4.8 4.6l-4.8 4.6l-4.8-4.6zM146.8 1055.8l4.8 4.6l-4.8 4.6l-4.8-4.6zM149.3 1085.0l4.8 4.6l-4.8 4.6l-4.8-4.6zM150.7 1051.9l4.8 4.6l-4.8 4.6l-4.8-4.6zM153.8 1046.8l4.8 4.6l-4.8 4.6l-4.8-4.6zM162.5 1060.3l4.8 4.6l-4.8 4.6l-4.8-4.6zM165.3 1049.1l4.8 4.6l-4.8 4.6l-4.8-4.6zM169.0 1036.7l4.8 4.6l-4.8 4.6l-4.8-4.6zM170.4 1065.3l4.8 4.6l-4.8 4.6l-4.8-4.6zM174.9 1054.7l4.8 4.6l-4.8 4.6l-4.8-4.6zM179.9 1067.0l4.8 4.6l-4.8 4.6l-4.8-4.6zM184.4 1069.3l4.8 4.6l-4.8 4.6l-4.8-4.6zM189.5 1070.4l4.8 4.6l-4.8 4.6l-4.8-4.6zM192.8 1009.7l4.8 4.6l-4.8 4.6l-4.8-4.6zM196.2 1031.1l4.8 4.6l-4.8 4.6l-4.8-4.6zM197.9 1051.3l4.8 4.6l-4.8 4.6l-4.8-4.6zM199.9 1051.9l4.8 4.6l-4.8 4.6l-4.8-4.6zM200.1 1068.2l4.8 4.6l-4.8 4.6l-4.8-4.6zM202.2 1085.6l4.8 4.6l-4.8 4.6l-4.8-4.6zM204.3 1055.7l4.8 4.6l-4.8 4.6l-4.8-4.6zM207.5 1076.0l4.8 4.6l-4.8 4.6l-4.8-4.6zM207.9 1048.1l4.8 4.6l-4.8 4.6l-4.8-4.6zM211.7 1027.1l4.8 4.6l-4.8 4.6l-4.8-4.6zM215.1 1008.1l4.8 4.6l-4.8 4.6l-4.8-4.6zM218.3 997.3l4.8 4.6l-4.8 4.6l-4.8-4.6zM220.6 1057.0l4.8 4.6l-4.8 4.6l-4.8-4.6zM222.7 969.4l4.8 4.6l-4.8 4.6l-4.8-4.6zM224.9 1040.5l4.8 4.6l-4.8 4.6l-4.8-4.6zM227.2 1029.7l4.8 4.6l-4.8 4.6l-4.8-4.6zM230.3 1027.8l4.8 4.6l-4.8 4.6l-4.8-4.6zM236.1 1041.5l4.8 4.6l-4.8 4.6l-4.8-4.6zM238.6 1026.5l4.8 4.6l-4.8 4.6l-4.8-4.6zM239.9 1016.4l4.8 4.6l-4.8 4.6l-4.8-4.6zM243.0 1034.1l4.8 4.6l-4.8 4.6l-4.8-4.6zM244.6 987.2l4.8 4.6l-4.8 4.6l-4.8-4.6zM246.8 1061.8l4.8 4.6l-4.8 4.6l-4.8-4.6zM251.3 1072.8l4.8 4.6l-4.8 4.6l-4.8-4.6zM257.4 1034.1l4.8 4.6l-4.8 4.6l-4.8-4.6zM258.3 1053.2l4.8 4.6l-4.8 4.6l-4.8-4.6zM262.7 1061.0l4.8 4.6l-4.8 4.6l-4.8-4.6zM264.9 1023.0l4.8 4.6l-4.8 4.6l-4.8-4.6zM270.9 1009.4l4.8 4.6l-4.8 4.6l-4.8-4.6zM274.5 1038.6l4.8 4.6l-4.8 4.6l-4.8-4.6zM275.8 992.3l4.8 4.6l-4.8 4.6l-4.8-4.6zM277.9 1019.5l4.8 4.6l-4.8 4.6l-4.8-4.6zM282.4 1010.4l4.8 4.6l-4.8 4.6l-4.8-4.6zM282.7 1039.2l4.8 4.6l-4.8 4.6l-4.8-4.6zM285.5 1053.8l4.8 4.6l-4.8 4.6l-4.8-4.6zM287.2 1069.0l4.8 4.6l-4.8 4.6l-4.8-4.6zM287.8 1073.4l4.8 4.6l-4.8 4.6l-4.8-4.6zM291.2 1041.7l4.8 4.6l-4.8 4.6l-4.8-4.6zM291.9 1021.4l4.8 4.6l-4.8 4.6l-4.8-4.6zM295.4 1048.1l4.8 4.6l-4.8 4.6l-4.8-4.6zM297.6 1043.6l4.8 4.6l-4.8 4.6l-4.8-4.6zM299.5 991.2l4.8 4.6l-4.8 4.6l-4.8-4.6zM303.9 1011.9l4.8 4.6l-4.8 4.6l-4.8-4.6zM308.1 1010.0l4.8 4.6l-4.8 4.6l-4.8-4.6zM313.4 1036.5l4.8 4.6l-4.8 4.6l-4.8-4.6zM319.0 1015.4l4.8 4.6l-4.8 4.6l-4.8-4.6zM323.3 1050.4l4.8 4.6l-4.8 4.6l-4.8-4.6zM326.1 1018.0l4.8 4.6l-4.8 4.6l-4.8-4.6zM331.3 1040.6l4.8 4.6l-4.8 4.6l-4.8-4.6zM334.3 1054.0l4.8 4.6l-4.8 4.6l-4.8-4.6zM346.6 961.6l4.8 4.6l-4.8 4.6l-4.8-4.6zM351.0 1016.7l4.8 4.6l-4.8 4.6l-4.8-4.6zM354.9 974.6l4.8 4.6l-4.8 4.6l-4.8-4.6zM359.6 1029.0l4.8 4.6l-4.8 4.6l-4.8-4.6zM364.6 1005.9l4.8 4.6l-4.8 4.6l-4.8-4.6zM368.5 1038.7l4.8 4.6l-4.8 4.6l-4.8-4.6zM372.1 1059.8l4.8 4.6l-4.8 4.6l-4.8-4.6zM376.0 1048.4l4.8 4.6l-4.8 4.6l-4.8-4.6zM379.7 1026.8l4.8 4.6l-4.8 4.6l-4.8-4.6zM383.8 1047.8l4.8 4.6l-4.8 4.6l-4.8-4.6zM389.4 1073.7l4.8 4.6l-4.8 4.6l-4.8-4.6zM392.6 1081.5l4.8 4.6l-4.8 4.6l-4.8-4.6zM401.9 1028.3l4.8 4.6l-4.8 4.6l-4.8-4.6zM406.9 1018.4l4.8 4.6l-4.8 4.6l-4.8-4.6zM411.3 1056.5l4.8 4.6l-4.8 4.6l-4.8-4.6zM414.5 1007.9l4.8 4.6l-4.8 4.6l-4.8-4.6zM419.7 1015.4l4.8 4.6l-4.8 4.6l-4.8-4.6zM423.3 1029.6l4.8 4.6l-4.8 4.6l-4.8-4.6zM427.5 1054.2l4.8 4.6l-4.8 4.6l-4.8-4.6zM431.3 990.1l4.8 4.6l-4.8 4.6l-4.8-4.6zM435.1 987.2l4.8 4.6l-4.8 4.6l-4.8-4.6zM438.3 995.6l4.8 4.6l-4.8 4.6l-4.8-4.6zM442.7 996.8l4.8 4.6l-4.8 4.6l-4.8-4.6zM447.4 1004.7l4.8 4.6l-4.8 4.6l-4.8-4.6zM451.0 995.6l4.8 4.6l-4.8 4.6l-4.8-4.6zM455.4 1062.1l4.8 4.6l-4.8 4.6l-4.8-4.6zM458.8 1021.8l4.8 4.6l-4.8 4.6l-4.8-4.6zM462.7 1041.2l4.8 4.6l-4.8 4.6l-4.8-4.6zM467.9 1023.1l4.8 4.6l-4.8 4.6l-4.8-4.6zM470.6 1008.5l4.8 4.6l-4.8 4.6l-4.8-4.6zM476.1 942.1l4.8 4.6l-4.8 4.6l-4.8-4.6zM480.2 1024.1l4.8 4.6l-4.8 4.6l-4.8-4.6zM483.6 1044.6l4.8 4.6l-4.8 4.6l-4.8-4.6zM487.5 988.2l4.8 4.6l-4.8 4.6l-4.8-4.6zM491.8 1036.7l4.8 4.6l-4.8 4.6l-4.8-4.6zM495.4 1012.9l4.8 4.6l-4.8 4.6l-4.8-4.6zM500.5 1011.7l4.8 4.6l-4.8 4.6l-4.8-4.6zM509.1 1003.0l4.8 4.6l-4.8 4.6l-4.8-4.6zM512.9 1007.0l4.8 4.6l-4.8 4.6l-4.8-4.6zM516.9 1043.0l4.8 4.6l-4.8 4.6l-4.8-4.6zM522.3 941.3l4.8 4.6l-4.8 4.6l-4.8-4.6zM525.6 993.6l4.8 4.6l-4.8 4.6l-4.8-4.6zM536.3 946.1l4.8 4.6l-4.8 4.6l-4.8-4.6zM540.4 957.0l4.8 4.6l-4.8 4.6l-4.8-4.6zM544.7 954.3l4.8 4.6l-4.8 4.6l-4.8-4.6zM548.3 1052.4l4.8 4.6l-4.8 4.6l-4.8-4.6zM553.0 1032.4l4.8 4.6l-4.8 4.6l-4.8-4.6zM555.4 967.2l4.8 4.6l-4.8 4.6l-4.8-4.6zM563.4 988.4l4.8 4.6l-4.8 4.6l-4.8-4.6zM567.5 1028.5l4.8 4.6l-4.8 4.6l-4.8-4.6zM572.2 999.3l4.8 4.6l-4.8 4.6l-4.8-4.6zM575.1 1026.7l4.8 4.6l-4.8 4.6l-4.8-4.6zM577.9 969.6l4.8 4.6l-4.8 4.6l-4.8-4.6zM585.1 969.6l4.8 4.6l-4.8 4.6l-4.8-4.6zM590.5 947.8l4.8 4.6l-4.8 4.6l-4.8-4.6zM594.4 952.5l4.8 4.6l-4.8 4.6l-4.8-4.6zM597.5 1005.3l4.8 4.6l-4.8 4.6l-4.8-4.6zM602.6 964.6l4.8 4.6l-4.8 4.6l-4.8-4.6zM606.5 958.2l4.8 4.6l-4.8 4.6l-4.8-4.6zM610.0 966.7l4.8 4.6l-4.8 4.6l-4.8-4.6zM613.3 998.9l4.8 4.6l-4.8 4.6l-4.8-4.6zM615.0 957.0l4.8 4.6l-4.8 4.6l-4.8-4.6zM626.7 907.5l4.8 4.6l-4.8 4.6l-4.8-4.6zM630.7 935.4l4.8 4.6l-4.8 4.6l-4.8-4.6zM634.0 972.5l4.8 4.6l-4.8 4.6l-4.8-4.6zM637.9 953.5l4.8 4.6l-4.8 4.6l-4.8-4.6zM640.0 1047.8l4.8 4.6l-4.8 4.6l-4.8-4.6zM644.3 938.2l4.8 4.6l-4.8 4.6l-4.8-4.6zM648.8 917.7l4.8 4.6l-4.8 4.6l-4.8-4.6zM653.5 924.9l4.8 4.6l-4.8 4.6l-4.8-4.6zM656.4 965.0l4.8 4.6l-4.8 4.6l-4.8-4.6zM658.6 952.8l4.8 4.6l-4.8 4.6l-4.8-4.6zM666.5 999.5l4.8 4.6l-4.8 4.6l-4.8-4.6zM671.2 924.9l4.8 4.6l-4.8 4.6l-4.8-4.6zM675.2 966.3l4.8 4.6l-4.8 4.6l-4.8-4.6zM679.6 924.7l4.8 4.6l-4.8 4.6l-4.8-4.6zM684.7 934.5l4.8 4.6l-4.8 4.6l-4.8-4.6zM688.1 974.1l4.8 4.6l-4.8 4.6l-4.8-4.6zM690.6 969.3l4.8 4.6l-4.8 4.6l-4.8-4.6zM693.8 981.7l4.8 4.6l-4.8 4.6l-4.8-4.6zM699.3 969.3l4.8 4.6l-4.8 4.6l-4.8-4.6zM701.4 951.3l4.8 4.6l-4.8 4.6l-4.8-4.6zM705.9 902.5l4.8 4.6l-4.8 4.6l-4.8-4.6zM710.7 925.3l4.8 4.6l-4.8 4.6l-4.8-4.6zM714.7 914.5l4.8 4.6l-4.8 4.6l-4.8-4.6zM722.7 962.1l4.8 4.6l-4.8 4.6l-4.8-4.6zM726.2 944.3l4.8 4.6l-4.8 4.6l-4.8-4.6zM730.4 990.0l4.8 4.6l-4.8 4.6l-4.8-4.6zM733.4 937.6l4.8 4.6l-4.8 4.6l-4.8-4.6zM739.5 965.6l4.8 4.6l-4.8 4.6l-4.8-4.6zM743.0 941.4l4.8 4.6l-4.8 4.6l-4.8-4.6zM745.2 914.2l4.8 4.6l-4.8 4.6l-4.8-4.6zM748.7 958.9l4.8 4.6l-4.8 4.6l-4.8-4.6zM753.7 1003.4l4.8 4.6l-4.8 4.6l-4.8-4.6zM757.5 961.0l4.8 4.6l-4.8 4.6l-4.8-4.6zM760.7 968.3l4.8 4.6l-4.8 4.6l-4.8-4.6zM764.5 935.8l4.8 4.6l-4.8 4.6l-4.8-4.6zM768.9 966.4l4.8 4.6l-4.8 4.6l-4.8-4.6zM774.4 980.0l4.8 4.6l-4.8 4.6l-4.8-4.6zM778.4 965.4l4.8 4.6l-4.8 4.6l-4.8-4.6zM788.8 955.2l4.8 4.6l-4.8 4.6l-4.8-4.6zM797.5 918.1l4.8 4.6l-4.8 4.6l-4.8-4.6zM801.3 942.3l4.8 4.6l-4.8 4.6l-4.8-4.6zM804.7 981.2l4.8 4.6l-4.8 4.6l-4.8-4.6zM810.2 964.1l4.8 4.6l-4.8 4.6l-4.8-4.6zM813.3 889.9l4.8 4.6l-4.8 4.6l-4.8-4.6zM818.2 955.5l4.8 4.6l-4.8 4.6l-4.8-4.6zM821.3 946.4l4.8 4.6l-4.8 4.6l-4.8-4.6zM826.7 946.1l4.8 4.6l-4.8 4.6l-4.8-4.6zM830.5 908.6l4.8 4.6l-4.8 4.6l-4.8-4.6zM835.1 955.5l4.8 4.6l-4.8 4.6l-4.8-4.6zM838.6 981.2l4.8 4.6l-4.8 4.6l-4.8-4.6zM840.2 1009.3l4.8 4.6l-4.8 4.6l-4.8-4.6zM844.2 999.8l4.8 4.6l-4.8 4.6l-4.8-4.6zM848.4 977.9l4.8 4.6l-4.8 4.6l-4.8-4.6zM852.3 967.2l4.8 4.6l-4.8 4.6l-4.8-4.6zM857.1 947.8l4.8 4.6l-4.8 4.6l-4.8-4.6zM860.2 938.3l4.8 4.6l-4.8 4.6l-4.8-4.6zM863.6 936.9l4.8 4.6l-4.8 4.6l-4.8-4.6zM867.0 963.8l4.8 4.6l-4.8 4.6l-4.8-4.6zM870.6 1007.6l4.8 4.6l-4.8 4.6l-4.8-4.6zM874.5 966.1l4.8 4.6l-4.8 4.6l-4.8-4.6zM876.2 989.7l4.8 4.6l-4.8 4.6l-4.8-4.6zM882.9 966.1l4.8 4.6l-4.8 4.6l-4.8-4.6z"/>
</g>
<text class="t" x="114.7" y="1134.2" text-anchor="middle">0</text>
<text class="t" x="216.6" y="1134.2" text-anchor="middle">50</text>
<text class="t" x="318.4" y="1134.2" text-anchor="middle">100</text>
<text class="t" x="420.2" y="1134.2" text-anchor="middle">150</text>
<text class="t" x="522.1" y="1134.2" text-anchor="middle">200</text>
<text class="t" x="624.0" y="1134.2" text-anchor="middle">250</text>
<text class="t" x="725.8" y="1134.2" text-anchor="middle">300</text>
<text class="t" x="827.6" y="1134.2" text-anchor="middle">350</text>
<text class="t" x="929.5" y="1134.2" text-anchor="middle">400</text>
<text class="t" x="522.5" y="1156.3" text-anchor="middle">mblf</text>
</svg>
</body></html>
